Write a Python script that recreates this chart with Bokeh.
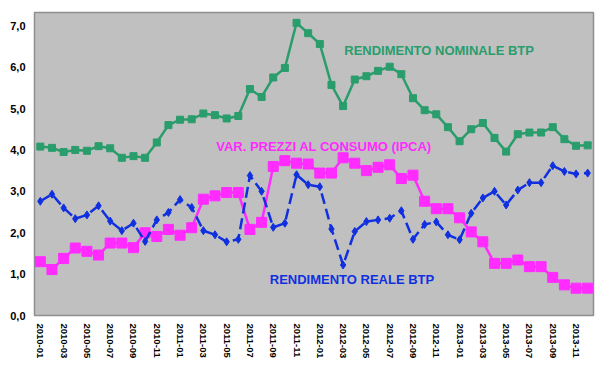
from bokeh.plotting import figure
from bokeh.models import Range1d, FixedTicker, Label, ColumnDataSource
from bokeh.embed import file_html
from bokeh.resources import INLINE

months = [f"{y}-{m:02d}" for y in (2010, 2011, 2012, 2013) for m in range(1, 13)]

nominale = [4.08, 4.05, 3.95, 4.00, 3.98, 4.09, 4.04, 3.81, 3.85, 3.81, 4.18, 4.60,
            4.73, 4.74, 4.88, 4.84, 4.76, 4.82, 5.47, 5.28, 5.75, 5.98, 7.07, 6.82,
            6.56, 5.57, 5.06, 5.70, 5.78, 5.91, 6.01, 5.83, 5.25, 4.96, 4.86, 4.55,
            4.21, 4.50, 4.65, 4.29, 3.96, 4.38, 4.42, 4.42, 4.55, 4.26, 4.10, 4.11]

ipca = [1.30, 1.11, 1.38, 1.63, 1.55, 1.46, 1.75, 1.75, 1.64, 2.00, 1.91, 2.08,
        1.94, 2.12, 2.81, 2.89, 2.97, 2.97, 2.08, 2.25, 3.60, 3.74, 3.68, 3.66,
        3.44, 3.44, 3.81, 3.68, 3.50, 3.58, 3.64, 3.31, 3.39, 2.76, 2.58, 2.58,
        2.36, 2.02, 1.78, 1.26, 1.26, 1.34, 1.18, 1.18, 0.92, 0.74, 0.66, 0.66]

reale = [2.76, 2.93, 2.60, 2.34, 2.43, 2.65, 2.28, 2.05, 2.23, 1.79, 2.31, 2.49,
         2.80, 2.61, 2.05, 1.95, 1.78, 1.84, 3.38, 3.00, 2.13, 2.23, 3.40, 3.16,
         3.11, 2.09, 1.22, 2.03, 2.27, 2.31, 2.35, 2.53, 1.84, 2.20, 2.26, 1.95,
         1.83, 2.47, 2.84, 3.00, 2.67, 3.03, 3.21, 3.21, 3.62, 3.48, 3.42, 3.44]

y_ticks = [0, 1, 2, 3, 4, 5, 6, 7]

GREEN = "#2A9D6C"
PINK = "#FF2BFF"
BLUE = "#1030E0"

x = list(range(len(months)))
src = ColumnDataSource(dict(x=x, nom=nominale, ipca=ipca, reale=reale))

p = figure(width=601, height=364, output_backend="svg", toolbar_location=None,
           x_range=Range1d(-0.5, len(months) - 0.5), y_range=Range1d(0, 7.32),
           min_border_left=34, min_border_right=8, min_border_top=12, min_border_bottom=49)

p.border_fill_color = "white"
p.outline_line_color = "#8f8f8f"
p.outline_line_width = 1.5
p.grid.visible = False
p.background_fill_color = "#C0C0C0"

p.line("x", "nom", source=src, color=GREEN, line_width=2.5)
p.scatter("x", "nom", source=src, marker="square", size=7, color=GREEN)

p.line("x", "ipca", source=src, color=PINK, line_width=2.5)
p.scatter("x", "ipca", source=src, marker="square", size=10, color=PINK)

p.line("x", "reale", source=src, color=BLUE, line_width=2.5, line_dash="11 5")
p.scatter("x", "reale", source=src, marker="diamond", size=8, color=BLUE)

for ax in (p.xaxis, p.yaxis):
    ax.major_label_text_font = "Liberation Sans"
    ax.major_label_text_font_style = "bold"
    ax.major_label_text_color = "black"
    ax.axis_line_color = None
    ax.major_tick_line_color = None
    ax.minor_tick_line_color = None
    ax.major_tick_out = 0
    ax.major_tick_in = 0
    ax.minor_tick_out = 0
    ax.minor_tick_in = 0

p.yaxis.ticker = FixedTicker(ticks=y_ticks)
p.yaxis.major_label_overrides = {t: f"{t},0" for t in y_ticks}
p.yaxis.major_label_text_font_size = "11px"
p.yaxis.major_label_standoff = 9

xt = [i for i in x if i % 2 == 0]
p.xaxis.ticker = FixedTicker(ticks=xt)
p.xaxis.major_label_overrides = {i: months[i] for i in xt}
p.xaxis.major_label_orientation = "vertical"
p.xaxis.major_label_text_font_size = "9.5px"
p.xaxis.major_label_standoff = 8

def lab(xv, yv, txt, col):
    p.add_layout(Label(x=xv, y=yv, text=txt, text_color=col, text_font="Liberation Sans",
                       text_font_style="bold", text_font_size="13px", text_baseline="middle"))

lab(26.1, 6.40, "RENDIMENTO NOMINALE BTP", GREEN)
lab(15.1, 4.08, "VAR. PREZZI AL CONSUMO (IPCA)", PINK)
lab(19.7, 0.87, "RENDIMENTO REALE BTP", BLUE)

open("out.html", "w").write(file_html(p, INLINE))
